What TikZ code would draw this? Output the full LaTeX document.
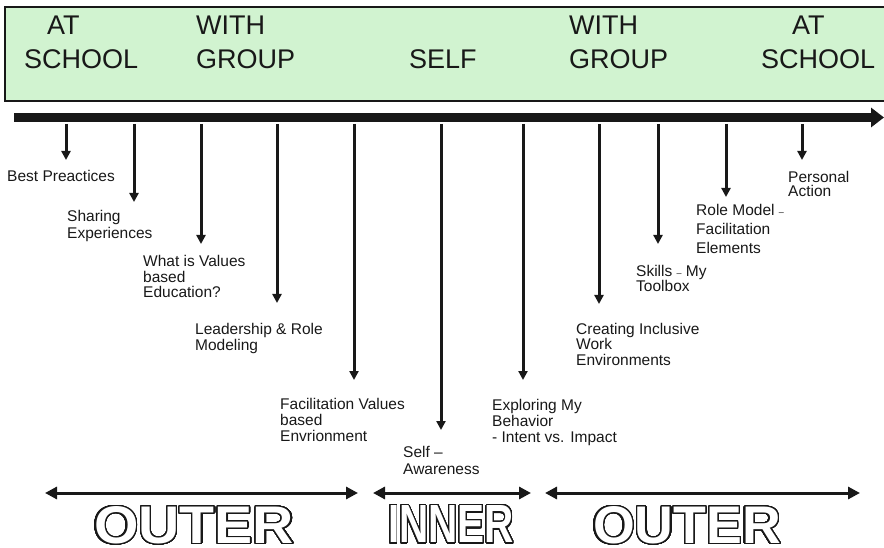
\documentclass[tikz,border=0pt]{standalone}
\usepackage{fontspec}
\setmainfont{Liberation Sans}
\usepackage[copies]{contour}
\usetikzlibrary{arrows.meta}

\definecolor{panelgreen}{RGB}{209,243,208}
\definecolor{ink}{RGB}{24,24,24}
\contourlength{1.2pt}
\contournumber{64}

% outlined (hollow) word, stretched to a given width and cap height
\newcommand\hollowword[3]{\resizebox{#2}{#3}{\fontsize{50}{50}\selectfont\bfseries\contour{ink}{\textcolor{white}{#1}}}}
\newcommand\smalldash{{\fontsize{9}{9}\selectfont\raisebox{0.5pt}{–}}}

\tikzset{
  x=1pt, y=-1pt,
  % multi-line nodes are anchored at the baseline of their last line
  lbl/.style={font=\fontsize{15.5}{#1}\selectfont, align=left, anchor=base west, inner sep=0pt, text=ink},
  lbl/.default=16,
  head/.style={font=\fontsize{27}{34}\selectfont, align=left, anchor=base west, inner sep=0pt, text=ink},
  drop/.style={draw=ink, line width=3pt, -{Triangle[length=9pt,width=9pt]}},
  span/.style={draw=ink, line width=3pt, {Triangle[length=12pt,width=12pt]}-{Triangle[length=12pt,width=12pt]}},
  zone/.style={inner sep=0pt}
}

\begin{document}
\begin{tikzpicture}
\useasboundingbox (0,0) rectangle (884,548);

% header panel
\draw[draw=ink, line width=2pt, fill=panelgreen] (5,7) rectangle (895,101);
\node[head] (h1) at (24,69)  {\hspace*{23pt}AT\\SCHOOL};
\node[head] (h2) at (196,69) {WITH\\GROUP};
\node[head] (h3) at (409,69) {SELF};
\node[head] (h4) at (569,69) {WITH\\GROUP};
\node[head] (h5) at (761,69) {\hspace*{31pt}AT\\SCHOOL};

% timeline
\coordinate (tstart) at (14,117.5);
\coordinate (tend) at (884,117.5);
\draw[ink, line width=8.5pt, -{Triangle[length=13pt,width=19pt]}] (tstart) -- (tend);

% drops from the timeline
\foreach \n/\x/\y in {1/66/160, 2/134/202, 3/201/244, 4/277/303, 5/354/380,
                      6/441/430, 7/523/380, 8/599/304, 9/658/244, 10/726/197, 11/802/160}{
  \coordinate (top\n) at (\x,124);
  \coordinate (tip\n) at (\x,\y);
  \draw[drop] (top\n) -- (tip\n);
}

% topic labels
\node[lbl] (best) at (7,182) {Best Preactices};
\node[lbl=17] (share) at (67,239) {Sharing\\Experiences};
\node[lbl=15.5] (values) at (143,298) {What is Values\\based\\Education?};
\node[lbl=16] (lead) at (195,350) {Leadership \& Role\\Modeling};
\node[lbl=16] (facil) at (280,441) {Facilitation Values\\based\\Envrionment};
\node[lbl=16.5] (self) at (403,474) {Self –\\Awareness};
\node[lbl=16] (explore) at (492,442) {Exploring My\\Behavior\\- Intent vs. Impact};
\node[lbl=15.5] (incl) at (576,365) {Creating Inclusive\\Work\\Environments};
\node[lbl=14.5] (skills) at (636,291) {Skills \smalldash{} My\\Toolbox};
\node[lbl=19] (role) at (696,254) {Role Model \smalldash\\Facilitation\\Elements};
\node[lbl=14.5] (pers) at (788,197) {Personal\\Action};

% outer / inner spans
\coordinate (o1a) at (45,493);  \coordinate (o1b) at (358,493);
\coordinate (ia) at (373,493);  \coordinate (ib) at (531,493);
\coordinate (o2a) at (545,493); \coordinate (o2b) at (860,493);
\draw[span] (o1a) -- (o1b);
\draw[span] (ia) -- (ib);
\draw[span] (o2a) -- (o2b);

\node[zone] (outer1) at (194,526) {\hollowword{OUTER}{200pt}{37pt}};
\node[zone] (inner)  at (451,525) {\hollowword{INNER}{126pt}{37pt}};
\node[zone] (outer2) at (687,526) {\hollowword{OUTER}{188pt}{37pt}};
\end{tikzpicture}
\end{document}
